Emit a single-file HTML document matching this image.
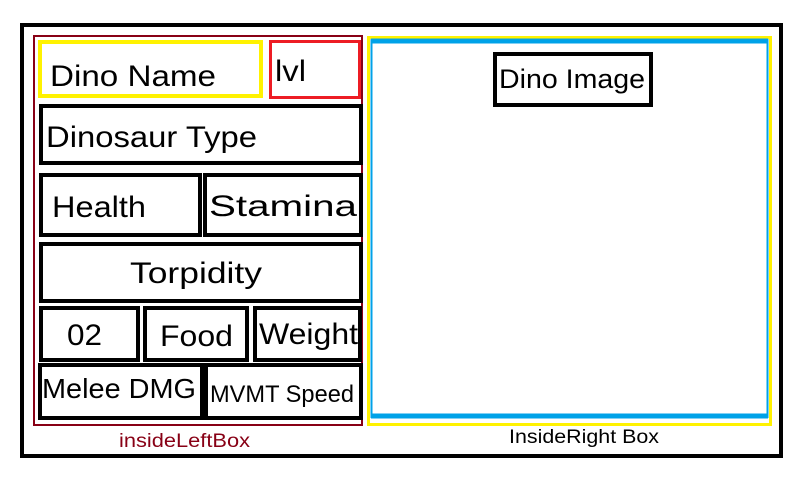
<!DOCTYPE html>
<html><head><meta charset="utf-8"><style>html,body{margin:0;padding:0;background:#fff;}svg{display:block}</style></head>
<body>
<svg width="797" height="484" xmlns="http://www.w3.org/2000/svg" font-family="Liberation Sans, sans-serif" fill="none">
<rect x="0" y="0" width="797" height="484" fill="#fff"/>
<rect x="22" y="25" width="759" height="431" stroke="#000" stroke-width="4"/>
<rect x="34" y="36" width="328" height="389" stroke="#880015" stroke-width="2"/>
<rect x="40" y="42" width="221" height="54" stroke="#fff200" stroke-width="4"/>
<rect x="270.5" y="41.5" width="89" height="56" stroke="#ed1c24" stroke-width="3"/>
<rect x="41" y="106" width="320" height="57" stroke="#000" stroke-width="4"/>
<rect x="41" y="175" width="159" height="60" stroke="#000" stroke-width="4"/>
<rect x="205" y="175" width="156" height="60" stroke="#000" stroke-width="4"/>
<rect x="41" y="244" width="320" height="57" stroke="#000" stroke-width="4"/>
<rect x="41" y="308" width="97" height="52" stroke="#000" stroke-width="4"/>
<rect x="145" y="308" width="102" height="52" stroke="#000" stroke-width="4"/>
<rect x="255" y="308" width="105" height="52" stroke="#000" stroke-width="4"/>
<rect x="40" y="365" width="162" height="53" stroke="#000" stroke-width="4"/>
<rect x="206" y="365" width="155" height="53" stroke="#000" stroke-width="4"/>
<rect x="368.5" y="37.5" width="402" height="387" stroke="#fff200" stroke-width="3"/>
<path d="M371 41 H768" stroke="#00a2e8" stroke-width="5"/>
<path d="M371 416 H768" stroke="#00a2e8" stroke-width="5"/>
<path d="M371.5 39 V418 M767.5 39 V418" stroke="#00a2e8" stroke-width="2"/>
<rect x="495" y="54" width="156" height="51" stroke="#000" stroke-width="4"/>
<g fill="#000" stroke="none">
<text x="50" y="86" font-size="30" textLength="166" lengthAdjust="spacingAndGlyphs">Dino Name</text>
<text x="275" y="81" font-size="30" textLength="31" lengthAdjust="spacingAndGlyphs">lvl</text>
<text x="46" y="147" font-size="30" textLength="211" lengthAdjust="spacingAndGlyphs">Dinosaur Type</text>
<text x="52" y="217" font-size="30" textLength="94" lengthAdjust="spacingAndGlyphs">Health</text>
<text x="209" y="216" font-size="30" textLength="148" lengthAdjust="spacingAndGlyphs">Stamina</text>
<text x="130" y="283" font-size="30" textLength="132" lengthAdjust="spacingAndGlyphs">Torpidity</text>
<text x="67" y="345" font-size="30" textLength="35" lengthAdjust="spacingAndGlyphs">02</text>
<text x="160" y="346" font-size="30" textLength="73" lengthAdjust="spacingAndGlyphs">Food</text>
<text x="259" y="344" font-size="30" textLength="99" lengthAdjust="spacingAndGlyphs">Weight</text>
<text x="42" y="398" font-size="28" textLength="154" lengthAdjust="spacingAndGlyphs">Melee DMG</text>
<text x="210" y="402" font-size="24" textLength="144" lengthAdjust="spacingAndGlyphs">MVMT Speed</text>
<text x="499" y="88" font-size="27" textLength="146" lengthAdjust="spacingAndGlyphs">Dino Image</text>
<text x="509" y="443" font-size="19" textLength="150" lengthAdjust="spacingAndGlyphs">InsideRight Box</text>
</g>
<text x="119" y="447" font-size="19" fill="#880015" textLength="131" lengthAdjust="spacingAndGlyphs">insideLeftBox</text>
</svg>
</body></html>
